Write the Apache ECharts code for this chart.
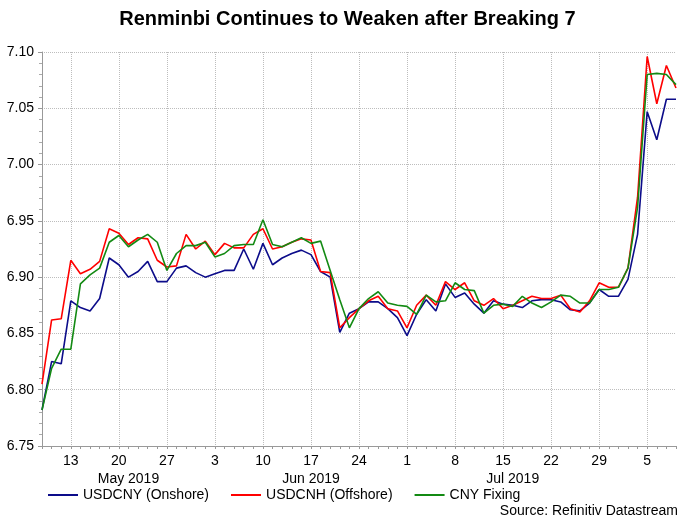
<!DOCTYPE html>
<html>
<head>
<meta charset="utf-8">
<script src="https://cdn.jsdelivr.net/npm/echarts@6/dist/echarts.min.js"></script>
<style>html,body{margin:0;padding:0;background:#fff;}#c{width:695px;height:526px;}</style>
</head>
<body>
<div id="c"></div>
<script>
const titleText = "Renminbi Continues to Weaken after Breaking 7";
const sourceText = "Source: Refinitiv Datastream";
const seriesNames = ["USDCNY (Onshore)", "USDCNH (Offshore)", "CNY Fixing"];

const dates = [
  "2019-05-08","2019-05-09","2019-05-10","2019-05-13","2019-05-14","2019-05-15","2019-05-16","2019-05-17",
  "2019-05-20","2019-05-21","2019-05-22","2019-05-23","2019-05-24","2019-05-27","2019-05-28","2019-05-29",
  "2019-05-30","2019-05-31","2019-06-03","2019-06-04","2019-06-05","2019-06-06","2019-06-07","2019-06-10",
  "2019-06-11","2019-06-12","2019-06-13","2019-06-14","2019-06-17","2019-06-18","2019-06-19","2019-06-20",
  "2019-06-21","2019-06-24","2019-06-25","2019-06-26","2019-06-27","2019-06-28","2019-07-01","2019-07-02",
  "2019-07-03","2019-07-04","2019-07-05","2019-07-08","2019-07-09","2019-07-10","2019-07-11","2019-07-12",
  "2019-07-15","2019-07-16","2019-07-17","2019-07-18","2019-07-19","2019-07-22","2019-07-23","2019-07-24",
  "2019-07-25","2019-07-26","2019-07-29","2019-07-30","2019-07-31","2019-08-01","2019-08-02","2019-08-05",
  "2019-08-06","2019-08-07","2019-08-08"
];

const usdcny = [
  6.782,6.825,6.823,6.879,6.873,6.870,6.881,6.917,6.911,6.900,6.905,6.914,6.896,6.896,6.908,6.910,
  6.904,6.900,6.903,6.906,6.906,6.925,6.907,6.930,6.911,6.917,6.921,6.924,6.920,6.905,6.900,6.851,
  6.868,6.872,6.878,6.878,6.872,6.864,6.848,6.867,6.880,6.870,6.894,6.882,6.886,6.876,6.868,6.879,
  6.876,6.875,6.873,6.879,6.880,6.880,6.878,6.871,6.870,6.877,6.889,6.883,6.883,6.898,6.938,7.047,
  7.022,7.058,7.058
];

const usdcnh = [
  6.805,6.862,6.863,6.915,6.903,6.907,6.914,6.943,6.939,6.929,6.935,6.934,6.915,6.909,6.910,6.938,
  6.925,6.932,6.920,6.930,6.926,6.926,6.938,6.943,6.925,6.927,6.931,6.934,6.933,6.905,6.904,6.855,
  6.864,6.872,6.879,6.883,6.872,6.870,6.855,6.875,6.884,6.875,6.896,6.889,6.895,6.879,6.875,6.881,
  6.872,6.875,6.879,6.883,6.881,6.881,6.884,6.872,6.869,6.879,6.895,6.891,6.891,6.908,6.971,7.096,
  7.054,7.088,7.068
];

const cnyFixing = [
  6.782,6.819,6.836,6.836,6.894,6.902,6.908,6.931,6.937,6.927,6.933,6.938,6.931,6.906,6.921,6.928,
  6.928,6.931,6.918,6.921,6.928,6.929,6.929,6.951,6.929,6.927,6.931,6.935,6.930,6.932,6.906,6.880,
  6.855,6.872,6.881,6.887,6.877,6.875,6.874,6.867,6.884,6.878,6.879,6.895,6.889,6.888,6.868,6.875,
  6.876,6.874,6.883,6.877,6.873,6.878,6.884,6.883,6.877,6.877,6.889,6.889,6.891,6.908,6.962,7.080,
  7.081,7.080,7.071
];

const monthLabels = {"2019-05-21": "May 2019", "2019-06-17": "Jun 2019", "2019-07-16": "Jul 2019"};

const FONT = "'Liberation Sans', Arial, sans-serif";
function isMonday(s){ return new Date(s + "T00:00:00Z").getUTCDay() === 1; }
function dayOf(s){ return String(parseInt(s.slice(8,10),10)); }

const chart = echarts.init(document.getElementById('c'), null, {renderer:'canvas', width:695, height:526});
chart.setOption({
  animation: false,
  backgroundColor: '#ffffff',
  textStyle: {fontFamily: FONT},
  title: [
    {text: titleText, left: 'center', top: 4,
     textStyle: {fontFamily: FONT, fontSize: 20, fontWeight: 'bold', color: '#000'}},
    {text: sourceText, right: 12, top: 499,
     textStyle: {fontFamily: FONT, fontSize: 14, fontWeight: 'normal', color: '#000'}}
  ],
  legend: {
    data: seriesNames, left: 43, top: 483, itemWidth: 30, itemHeight: 2, itemGap: 22,
    icon: 'rect',
    textStyle: {fontFamily: FONT, fontSize: 14, color: '#000'}
  },
  grid: {left: 42, right: 19, top: 52, bottom: 80, containLabel: false},
  xAxis: [
    {
      type: 'category', data: dates, boundaryGap: false,
      axisLine: {lineStyle: {color: '#999', width: 1}},
      axisTick: {show: true, interval: 0, length: 3, lineStyle: {color: '#999'}},
      axisLabel: {interval: (i, v) => isMonday(v), formatter: v => dayOf(v),
                  fontFamily: FONT, fontSize: 14, color: '#000', margin: 8},
      splitLine: {show: true, interval: (i, v) => isMonday(v),
                  lineStyle: {type: 'dotted', color: '#bdbdbd', width: 1}}
    },
    {
      type: 'category', data: dates, boundaryGap: false, position: 'bottom', offset: 18,
      axisLine: {show: false}, axisTick: {show: false}, splitLine: {show: false},
      axisLabel: {interval: (i, v) => !!monthLabels[v], formatter: v => monthLabels[v] || '',
                  fontFamily: FONT, fontSize: 14, color: '#000', margin: 8}
    }
  ],
  yAxis: {
    type: 'value', min: 6.75, max: 7.10, interval: 0.05,
    axisLine: {show: true, lineStyle: {color: '#999', width: 1}},
    axisTick: {show: true, length: 4, lineStyle: {color: '#999'}},
    minorTick: {show: true, splitNumber: 5, length: 3, lineStyle: {color: '#aaa'}},
    axisLabel: {formatter: v => v.toFixed(2), fontFamily: FONT, fontSize: 14, color: '#000', margin: 8},
    splitLine: {show: true, lineStyle: {type: 'dotted', color: '#bdbdbd', width: 1}}
  },
  series: [
    {name: seriesNames[0], type: 'line', data: usdcny, symbol: 'none',
     lineStyle: {color: '#0c0c8a', width: 1.6}, itemStyle: {color: '#0c0c8a'}},
    {name: seriesNames[1], type: 'line', data: usdcnh, symbol: 'none',
     lineStyle: {color: '#ff0000', width: 1.6}, itemStyle: {color: '#ff0000'}},
    {name: seriesNames[2], type: 'line', data: cnyFixing, symbol: 'none',
     lineStyle: {color: '#138a13', width: 1.6}, itemStyle: {color: '#138a13'}}
  ]
});
</script>
</body>
</html>
